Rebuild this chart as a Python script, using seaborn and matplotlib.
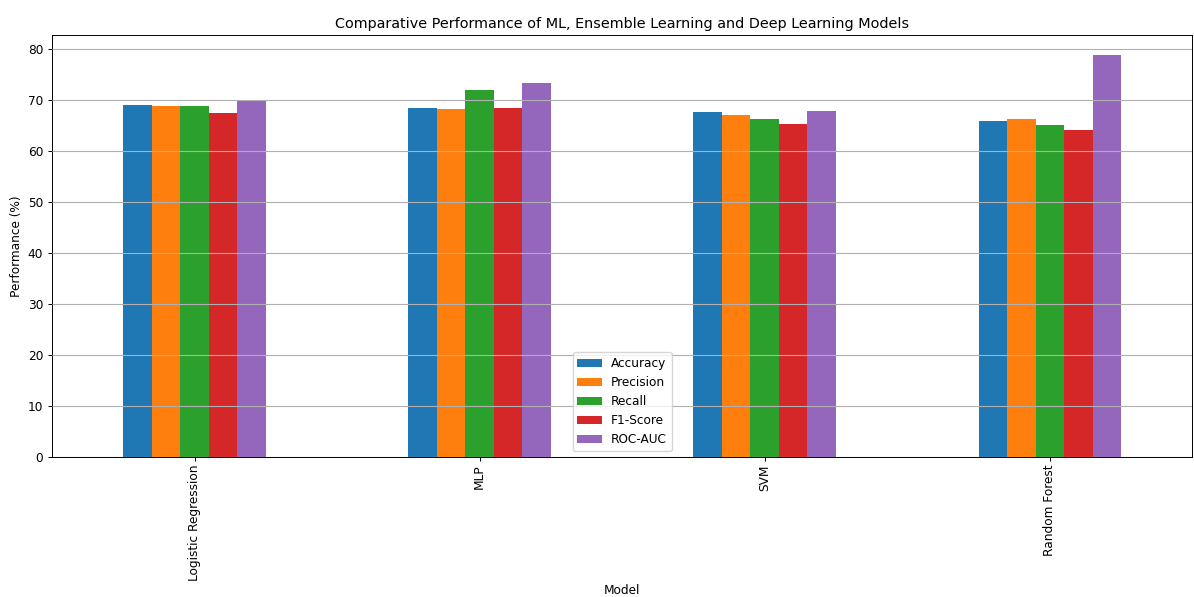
import matplotlib
matplotlib.use("Agg")
import matplotlib.pyplot as plt
import seaborn as sns
import pandas as pd

models = ["Logistic Regression", "MLP", "SVM", "Random Forest"]
metrics = ["Accuracy", "Precision", "Recall", "F1-Score", "ROC-AUC"]
accuracy = [69.2, 68.6, 67.8, 65.9]
precision = [69.0, 68.3, 67.1, 66.3]
recall = [69.0, 72.1, 66.3, 65.1]
f1_score = [67.6, 68.5, 65.4, 64.1]
roc_auc = [69.9, 73.5, 68.0, 78.9]

wide = pd.DataFrame(
    {"Accuracy": accuracy, "Precision": precision, "Recall": recall,
     "F1-Score": f1_score, "ROC-AUC": roc_auc},
    index=pd.Index(models, name="Model"),
)
long = wide.reset_index().melt(id_vars="Model", var_name="Metric", value_name="Score")

palette = ["#1f77b4", "#ff7f0e", "#2ca02c", "#d62728", "#9467bd"]

plt.rcParams["font.size"] = 8.7
plt.rcParams["axes.linewidth"] = 0.7
plt.rcParams["xtick.major.width"] = 0.7
plt.rcParams["ytick.major.width"] = 0.7
plt.rcParams["xtick.major.size"] = 3
plt.rcParams["ytick.major.size"] = 3

fig = plt.figure(figsize=(11.94, 5.97), dpi=100)
ax = fig.add_axes([0.0436, 0.2345, 0.955, 0.7065])

sns.barplot(data=long, x="Model", y="Score", hue="Metric", hue_order=metrics,
            order=models, palette=palette, width=0.5, saturation=1,
            edgecolor="none", linewidth=0, ax=ax, errorbar=None)

ax.set_xlim(-0.5, 3.5)
ax.set_ylim(0, 82.8)
ax.set_yticks(range(0, 81, 10))
ax.grid(axis="y", color="#b0b0b0", linewidth=0.8)
ax.set_axisbelow(False)
for bar in ax.patches:
    bar.set_zorder(1)
ax.tick_params(axis="x", labelrotation=90, pad=2.5)
ax.set_title("Comparative Performance of ML, Ensemble Learning and Deep Learning Models",
             fontsize=10.4, pad=5)
ax.set_xlabel("Model")
ax.xaxis.set_label_coords(0.5, -0.302)
ax.set_ylabel("Performance (%)", labelpad=3)
ax.legend(loc="lower center", title=None, borderaxespad=0.5)

fig.savefig("out.png", dpi=100)
